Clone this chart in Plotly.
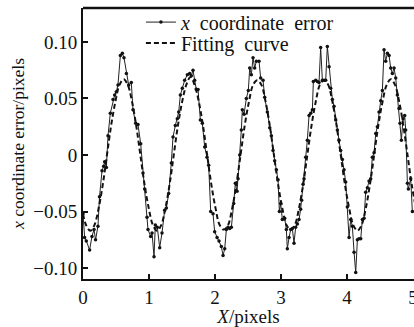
import plotly.graph_objects as go

err_x = [0.000, 0.025, 0.050, 0.100, 0.136, 0.167, 0.190, 0.227, 0.250, 0.288,
         0.313, 0.328, 0.354, 0.379, 0.414, 0.455, 0.480, 0.505, 0.530, 0.566,
         0.596, 0.621, 0.657, 0.692, 0.732, 0.758, 0.798, 0.833, 0.874, 0.909,
         0.934, 0.970,
         0.985, 1.025, 1.046, 1.076, 1.096, 1.126, 1.162, 1.197, 1.237, 1.263,
         1.298, 1.338, 1.364, 1.399, 1.429, 1.450, 1.475, 1.505, 1.540, 1.581,
         1.616, 1.641, 1.667, 1.692, 1.717, 1.743, 1.778, 1.808, 1.844, 1.879,
         1.904, 1.935, 1.970,
         1.995, 2.031, 2.061, 2.096, 2.122, 2.147, 2.172, 2.197, 2.222, 2.248,
         2.283, 2.308, 2.334, 2.349, 2.374, 2.399, 2.414, 2.440, 2.475, 2.505,
         2.526, 2.551, 2.576, 2.601, 2.627, 2.667, 2.692, 2.728, 2.753, 2.793,
         2.829, 2.854, 2.879, 2.904, 2.930, 2.955,
         2.975, 2.995, 3.020, 3.056, 3.081, 3.096, 3.122, 3.147, 3.172, 3.197,
         3.222, 3.248, 3.273, 3.298, 3.313, 3.334, 3.349, 3.374, 3.399, 3.425,
         3.450, 3.475, 3.490, 3.526, 3.551, 3.576, 3.601, 3.627, 3.652, 3.677,
         3.702, 3.728, 3.753, 3.778, 3.803, 3.829, 3.854, 3.879, 3.904, 3.930,
         3.955,
         3.980, 4.005, 4.031, 4.056, 4.081, 4.107, 4.132, 4.157, 4.182, 4.208,
         4.233, 4.258, 4.283, 4.309, 4.334, 4.359, 4.384, 4.410, 4.435, 4.460,
         4.485, 4.511, 4.536, 4.561, 4.586, 4.612, 4.637, 4.662, 4.687, 4.713,
         4.738, 4.763, 4.788, 4.803, 4.824, 4.849, 4.874, 4.889, 4.915, 4.930,
         4.965, 4.990]
err_y = [-0.052, -0.073, -0.076, -0.084, -0.072, -0.066, -0.075, -0.063, -0.037, -0.014,
         -0.010, -0.006, -0.011, 0.017, 0.037, 0.049, 0.053, 0.056, 0.062, 0.088,
         0.090, 0.086, 0.072, 0.062, 0.064, 0.040, 0.028, 0.027, 0.010, -0.016,
         -0.030, -0.055,
         -0.066, -0.072, -0.069, -0.090, -0.062, -0.064, -0.082, -0.069, -0.049, -0.047,
         -0.034, -0.007, 0.016, 0.026, 0.032, 0.038, 0.053, 0.059, 0.066, 0.071,
         0.072, 0.070, 0.075, 0.066, 0.058, 0.058, 0.031, 0.028, 0.007, -0.002,
         -0.009, -0.050, -0.052,
         -0.068, -0.073, -0.076, -0.081, -0.089, -0.083, -0.066, -0.064, -0.065, -0.064,
         -0.043, -0.025, -0.032, -0.021, 0.000, 0.022, 0.040, 0.036, 0.050, 0.057,
         0.077, 0.071, 0.086, 0.077, 0.083, 0.083, 0.068, 0.066, 0.051, 0.038,
         0.024, 0.017, 0.004, -0.005, -0.013, -0.022,
         -0.050, -0.043, -0.057, -0.056, -0.066, -0.083, -0.073, -0.066, -0.065, -0.078,
         -0.064, -0.061, -0.057, -0.048, -0.040, -0.026, -0.021, -0.002, 0.013, 0.035,
         0.037, 0.040, 0.065, 0.066, 0.065, 0.064, 0.095, 0.066, 0.066, 0.066,
         0.096, 0.078, 0.059, 0.049, 0.043, 0.031, 0.022, 0.013, 0.004, -0.004,
         -0.013,
         -0.024, -0.046, -0.073, -0.057, -0.063, -0.086, -0.104, -0.075, -0.074, -0.074,
         -0.057, -0.056, -0.033, -0.029, -0.023, -0.021, -0.002, 0.002, 0.019, 0.025,
         0.038, 0.048, 0.057, 0.093, 0.083, 0.090, 0.088, 0.077, 0.072, 0.077,
         0.068, 0.053, 0.041, 0.028, 0.013, 0.032, 0.035, 0.022, -0.025, -0.030,
         -0.021, -0.050]

# fitting curve
fit_x = [0.000, 0.047,
         0.110, 0.173, 0.237, 0.300, 0.363, 0.426, 0.490, 0.553, 0.616, 0.679,
         0.743, 0.806, 0.869, 0.932, 0.996, 1.059, 1.122, 1.185, 1.249, 1.312,
         1.375, 1.438, 1.502, 1.565, 1.628, 1.691, 1.755, 1.818, 1.881, 1.944,
         2.008, 2.071, 2.134, 2.197, 2.261, 2.324, 2.387, 2.450, 2.514, 2.577,
         2.640, 2.703, 2.767, 2.830, 2.893, 2.956, 3.020, 3.083, 3.146, 3.209,
         3.273, 3.336, 3.399, 3.462, 3.526, 3.589, 3.652, 3.715, 3.779, 3.842,
         3.905, 3.968, 4.032, 4.095, 4.158, 4.221, 4.285, 4.348, 4.411, 4.474,
         4.538, 4.601, 4.664, 4.727, 4.791, 4.854, 4.917, 4.980, 5.044]
fit_y = [-0.052, -0.062,
         -0.067, -0.062, -0.047, -0.026, 0.000, 0.026, 0.047, 0.062, 0.067, 0.062,
         0.047, 0.026, 0.000, -0.026, -0.047, -0.062, -0.067, -0.062, -0.047, -0.026,
         0.000, 0.026, 0.047, 0.062, 0.069, 0.062, 0.047, 0.026, 0.000, -0.026,
         -0.047, -0.062, -0.066, -0.062, -0.047, -0.026, 0.000, 0.026, 0.047, 0.062,
         0.066, 0.062, 0.047, 0.026, 0.000, -0.026, -0.047, -0.062, -0.066, -0.062,
         -0.047, -0.026, 0.000, 0.026, 0.047, 0.062, 0.066, 0.062, 0.047, 0.026,
         0.000, -0.026, -0.047, -0.062, -0.067, -0.062, -0.047, -0.026, 0.000, 0.026,
         0.047, 0.062, 0.067, 0.062, 0.047, 0.026, 0.000, -0.026, -0.047]

x_ticks = [0, 1, 2, 3, 4, 5]
x_tick_text = ["0", "1", "2", "3", "4", "5"]
y_ticks = [-0.10, -0.05, 0, 0.05, 0.10]
y_tick_text = ["\u22120.10", "\u22120.05", "0", "0.05", "0.10"]

FONT = "Liberation Serif"

fig = go.Figure()
fig.add_trace(go.Scatter(
    x=err_x, y=err_y, mode="lines+markers",
    name="<i>x</i>  coordinate  error",
    line=dict(color="#222", width=1),
    marker=dict(symbol="circle", size=3.5, color="#111"),
    legend="legend",
))
fig.add_trace(go.Scatter(
    x=fit_x, y=fit_y, mode="lines",
    name="Fitting  curve",
    line=dict(color="#111", width=2, dash="5px,3px", shape="spline"),
    legend="legend2",
))

leg_common = dict(x=0.175, xanchor="left", yanchor="middle",
                  bgcolor="rgba(0,0,0,0)", font=dict(size=20, family=FONT),
                  itemwidth=30)

fig.update_layout(
    width=414, height=327,
    margin=dict(l=83, r=0, t=8, b=48),
    paper_bgcolor="white", plot_bgcolor="white",
    font=dict(family=FONT, size=17, color="#111"),
    showlegend=True,
    legend=dict(y=0.948, **leg_common),
    legend2=dict(y=0.871, **leg_common),
    xaxis=dict(range=[0, 5.015], tickvals=x_ticks, ticktext=x_tick_text,
               ticks="inside", ticklen=5, tickwidth=1.5, tickcolor="#111",
               showline=True, linecolor="#111", linewidth=2, mirror=False,
               showgrid=False, zeroline=False, automargin=False,
               ticklabeloverflow="allow",
               tickfont=dict(size=19, family=FONT),
               title=dict(text="<i>X</i>/pixels", font=dict(size=19, family=FONT), standoff=2)),
    yaxis=dict(range=[-0.1097, 0.130], tickvals=y_ticks, ticktext=y_tick_text,
               ticks="inside", ticklen=5, tickwidth=1.5, tickcolor="#111",
               showline=True, linecolor="#111", linewidth=2, mirror=False,
               showgrid=False, zeroline=False, automargin=False,
               tickfont=dict(size=19, family=FONT),
               title=dict(text="<i>x</i> coordinate error/pixels", font=dict(size=17.5, family=FONT), standoff=4)),
    shapes=[dict(type="line", xref="paper", yref="paper", x0=0, x1=1, y0=1, y1=1,
                 line=dict(color="#111", width=2.5))],
)

fig.write_html("out.html",
               config={"displayModeBar": False},
               post_script="document.body.style.margin='0';document.body.style.overflow='hidden';")
